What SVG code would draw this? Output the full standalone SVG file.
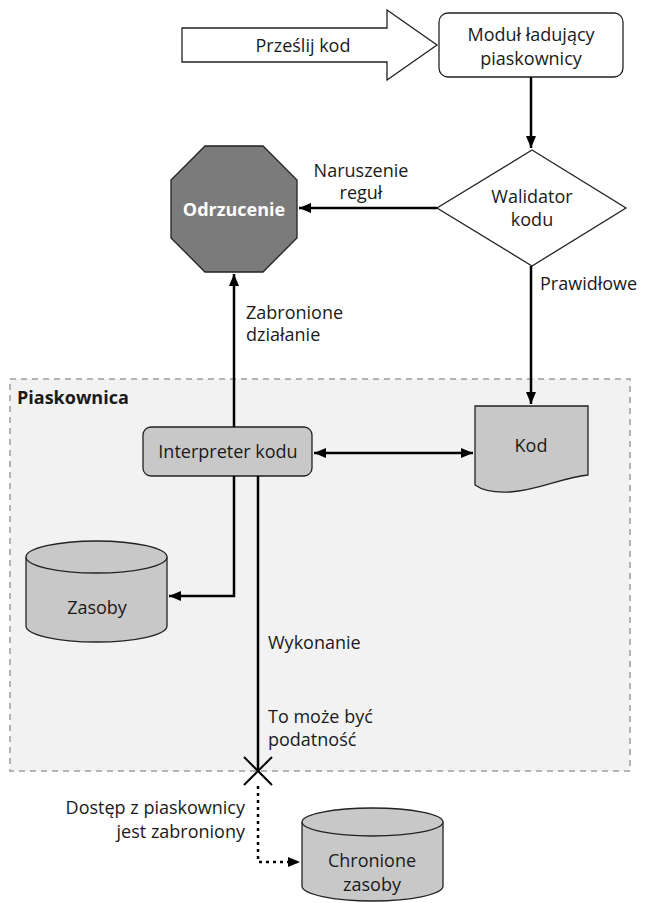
<svg xmlns="http://www.w3.org/2000/svg" width="647" height="903" viewBox="0 0 647 903">
<defs>
<style>
text{font-family:"Open Sans","Liberation Sans",sans-serif;font-size:18px;fill:#1a1a1a}
.c{text-anchor:middle}
.e{text-anchor:end}
.ln{fill:none;stroke:#000;stroke-width:2.5}
.sh{stroke:#222;stroke-width:1.3}
.g{fill:#c8c8c8}
</style>
<marker id="ah" viewBox="0 0 12 10" refX="12" refY="5" markerWidth="12" markerHeight="10" markerUnits="userSpaceOnUse" orient="auto-start-reverse">
<path d="M0,0L12,5L0,10Z" fill="#000"/>
</marker>
</defs>
<rect width="647" height="903" fill="#fff"/>
<g id="sandbox">
<rect x="10" y="379" width="620" height="392" fill="#f2f2f2" stroke="#b4b4b4" stroke-width="2" stroke-dasharray="6,5"/>
<text x="17" y="404" style="font-weight:bold">Piaskownica</text>
</g>
<g id="submit">
<path d="M182,28H387V10L437,45L387,80V62H182Z" fill="#fff" class="sh"/>
<text x="303" y="52" class="c">Prześlij kod</text>
</g>
<g id="loader">
<rect x="439" y="13" width="184" height="64" rx="9" fill="#fff" class="sh"/>
<text x="531" y="41" class="c">Moduł ładujący</text>
<text x="531" y="65" class="c">piaskownicy</text>
</g>
<g id="validator">
<path d="M532,150L626,208L532,266L437,208Z" fill="#fff" class="sh"/>
<text x="532" y="203" class="c">Walidator</text>
<text x="532" y="226" class="c">kodu</text>
</g>
<g id="reject">
<path d="M205,146H263L297,180V238L263,272H205L171,238V180Z" fill="#7b7b7b" class="sh"/>
<text x="234" y="216" class="c" style="fill:#fff;font-weight:bold">Odrzucenie</text>
</g>
<g id="code">
<path d="M475,406H588V475C560,478 540,490 510,492C492,493 482,490 475,485Z" class="g sh"/>
<text x="531" y="452" class="c">Kod</text>
</g>
<g id="interpreter">
<rect x="143" y="427" width="169" height="49" rx="8" class="g sh"/>
<text x="228" y="458" class="c">Interpreter kodu</text>
</g>
<g id="resources">
<path d="M26,557V626A70.5,16 0 0 0 167,626V557" class="g sh"/>
<ellipse cx="96.5" cy="557" rx="70.5" ry="16" class="g sh"/>
<text x="97" y="614" class="c">Zasoby</text>
</g>
<g id="protected">
<path d="M302,822V886A70.5,15 0 0 0 443,886V822" class="g sh"/>
<ellipse cx="372.5" cy="822" rx="70.5" ry="14" class="g sh"/>
<text x="372" y="867" class="c">Chronione</text>
<text x="372" y="891" class="c">zasoby</text>
</g>
<g id="connectors">
<path d="M531,77V148" class="ln" marker-end="url(#ah)"/>
<path d="M437,208H299" class="ln" marker-end="url(#ah)"/>
<path d="M531,266V404" class="ln" marker-end="url(#ah)"/>
<path d="M314,453H473" class="ln" marker-start="url(#ah)" marker-end="url(#ah)"/>
<path d="M234,427V274" class="ln" marker-end="url(#ah)"/>
<path d="M234,476V596H169" class="ln" marker-end="url(#ah)"/>
<path d="M258,476V770" class="ln"/>
<path d="M244,757L272,785M272,757L244,785" class="ln" style="stroke-width:2"/>
<path d="M258,786V862H300" fill="none" stroke="#000" stroke-width="2.5" stroke-dasharray="3,4" marker-end="url(#ah)"/>
</g>
<g id="labels">
<text x="361" y="177" class="c">Naruszenie</text>
<text x="361" y="199" class="c">reguł</text>
<text x="540" y="290">Prawidłowe</text>
<text x="246" y="319">Zabronione</text>
<text x="246" y="341">działanie</text>
<text x="268" y="649">Wykonanie</text>
<text x="268" y="723">To może być</text>
<text x="268" y="746">podatność</text>
<text x="245" y="814" class="e">Dostęp z piaskownicy</text>
<text x="245" y="838" class="e">jest zabroniony</text>
</g>
</svg>
